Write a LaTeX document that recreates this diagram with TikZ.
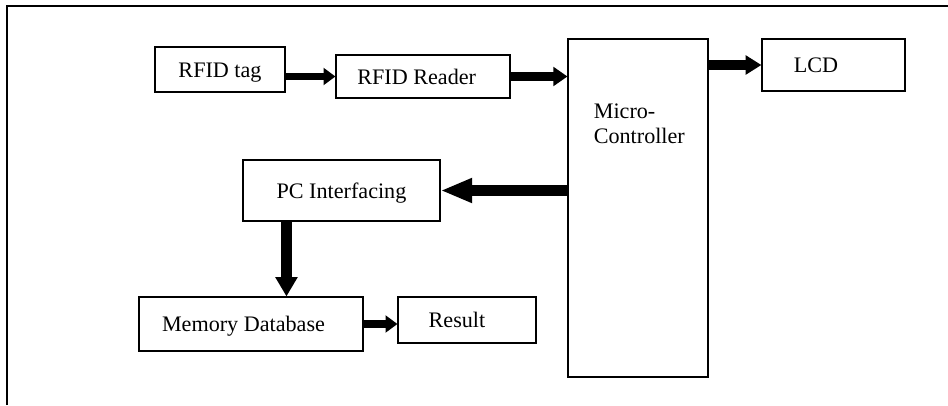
\documentclass[tikz,border=0pt]{standalone}
\usepackage{fontspec}
\setmainfont{Liberation Serif}
\usetikzlibrary{arrows.meta}
\begin{document}
\begin{tikzpicture}[>=latex,
  box/.style={draw,line width=.6pt,inner sep=0pt,text height=2.1ex,text depth=.2ex,font=\fontsize{12.6}{14}\selectfont},
  flow/.style n args={3}{line width=#1,-{Triangle[length=#2,width=#3]}}]
\useasboundingbox (0,0) rectangle (18.96,8.1);
\draw[line width=1.1pt] (.14,0)--(.14,7.98)--(18.96,7.98);

\node[box,minimum width=2.6cm,minimum height=.9cm] (tag) at (4.4,6.71) {RFID tag};
\node[box,minimum width=3.48cm,minimum height=.86cm] (reader) at (8.46,6.57) {\hspace*{-.25cm}RFID Reader};
\node[box,minimum width=2.8cm,minimum height=6.76cm] (mcu) at (12.76,3.94) {};
\node[font=\fontsize{12.6}{14}\selectfont,align=left,anchor=north west,inner sep=0pt]
  (mcutext) at ([shift={(.52,-1.3)}]mcu.north west) {Micro-\\Controller};
\node[box,minimum width=2.86cm,minimum height=1.04cm] (lcd) at (16.67,6.8) {\hspace*{-.7cm}LCD};
\node[box,minimum width=3.94cm,minimum height=1.22cm] (pc) at (6.83,4.29) {PC Interfacing};
\node[box,minimum width=4.48cm,minimum height=1.08cm] (mem) at (5.02,1.62) {\hspace*{-.3cm}Memory Database};
\node[box,minimum width=2.76cm,minimum height=.92cm] (res) at (9.34,1.7) {\hspace*{-.4cm}Result};

\draw[flow={4.5pt}{6.8pt}{9.5pt}] (reader.west -| tag.east)--(reader.west);
\draw[flow={5pt}{8pt}{10.5pt}] (reader.east)--(reader.east -| mcu.west);
\draw[flow={5.7pt}{9pt}{10.5pt}] (lcd.west -| mcu.east)--(lcd.west);
\draw[flow={6.8pt}{18pt}{13pt}] (pc.east -| mcu.west)--(pc.east);
\coordinate (pcout) at ([xshift=.88cm]pc.south west);
\draw[flow={6.2pt}{11pt}{12pt}] (pcout)--(pcout |- mem.north);
\draw[flow={4.5pt}{6.8pt}{9.5pt}] (mem.east)--(mem.east -| res.west);

\end{tikzpicture}
\end{document}
